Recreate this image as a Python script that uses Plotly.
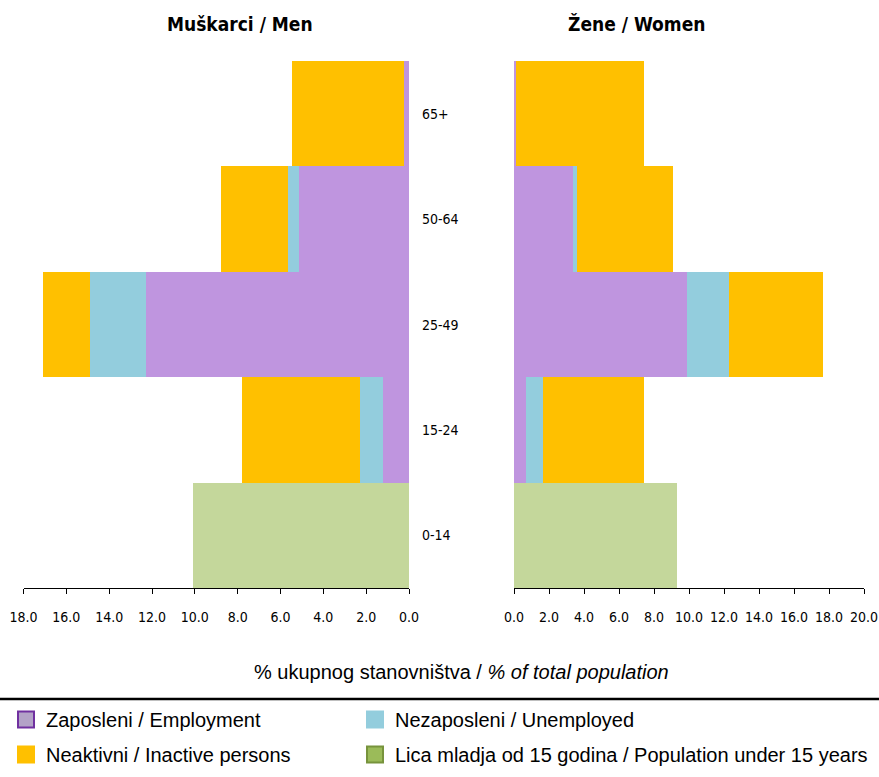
import plotly.graph_objects as go

W, H = 879, 777

age_groups = ["0-14", "15-24", "25-49", "50-64", "65+"]
tick_vals = [0, 2, 4, 6, 8, 10, 12, 14, 16, 18, 20]

# Men (% of total population)
men_employed = [0.0, 1.23, 12.32, 5.14, 0.26]
men_unemployed = [0.0, 1.07, 2.60, 0.54, 0.0]
men_inactive = [0.0, 5.50, 2.20, 3.14, 5.24]
men_under15 = [10.13, 0.0, 0.0, 0.0, 0.0]

# Women (% of total population)
women_employed = [0.0, 0.67, 9.90, 3.36, 0.10]
women_unemployed = [0.0, 0.97, 2.38, 0.23, 0.0]
women_inactive = [0.0, 5.77, 5.39, 5.50, 7.31]
women_under15 = [9.34, 0.0, 0.0, 0.0, 0.0]

C_EMP = "#BF95DF"
C_UNE = "#93CDDD"
C_INA = "#FFC000"
C_U15 = "#C4D79B"

fig = go.Figure()

def add_bars(xaxis, yaxis, vals_list):
    for vals, col in vals_list:
        fig.add_trace(go.Bar(
            y=age_groups, x=vals, orientation="h",
            marker=dict(color=col, line=dict(width=0)),
            xaxis=xaxis, yaxis=yaxis, showlegend=False,
            hoverinfo="x+y",
        ))

add_bars("x", "y", [(men_employed, C_EMP), (men_unemployed, C_UNE),
                    (men_inactive, C_INA), (men_under15, C_U15)])
add_bars("x2", "y2", [(women_employed, C_EMP), (women_unemployed, C_UNE),
                      (women_inactive, C_INA), (women_under15, C_U15)])

def px(x):
    return x / W

def py(y):
    return 1 - y / H

# legend entries: (name, fill, border, legend id, left px, top px)
legend_items = [
    ("Zaposleni / Employment", "#B3A2C7", "#7030A0", "legend", 6, 700),
    ("Nezaposleni / Unemployed", C_UNE, C_UNE, "legend2", 355, 700),
    ("Neaktivni / Inactive persons", C_INA, C_INA, "legend3", 6, 735),
    ("Lica mladja od 15 godina / Population under 15 years", "#9BBB59", "#77933C", "legend4", 355, 735),
]
legend_font = dict(size=20, family="Liberation Sans, Arial, sans-serif", color="#000")
legend_layout = {}
for name, fill, border, lg, lx, ly in legend_items:
    fig.add_trace(go.Scatter(
        x=[None], y=[None], mode="markers", name=name,
        marker=dict(symbol="square", size=17, color=fill,
                    line=dict(color=border, width=2)),
        xaxis="x", yaxis="y", legend=lg, showlegend=True,
    ))
    legend_layout[lg] = dict(orientation="h", x=px(lx), y=py(ly), yanchor="top",
                             xanchor="left", xref="container", yref="container",
                             font=legend_font, itemwidth=30,
                             bgcolor="rgba(0,0,0,0)")

y_dom = [py(588.3), py(61)]
narrow = "Liberation Sans Narrow, DejaVu Sans Condensed, Roboto Condensed, Arial Narrow, sans-serif"
tick_font = dict(family=narrow, size=14, color="#000")

fig.update_layout(
    width=W, height=H,
    margin=dict(l=0, r=0, t=0, b=0, autoexpand=False),
    paper_bgcolor="white", plot_bgcolor="white",
    barmode="stack", bargap=0,
    font=dict(family="Liberation Sans, Arial, sans-serif", color="#000"),
    xaxis=dict(domain=[px(23.5), px(409)], range=[18, 0], tickvals=tick_vals[:10],
               tickformat=".1f", showgrid=False, zeroline=False,
               showline=True, linecolor="#000", linewidth=1.2,
               ticks="outside", ticklen=5, tickcolor="#000", ticklabelstandoff=11,
               tickfont=tick_font, anchor="y", automargin=False),
    yaxis=dict(domain=y_dom, categoryorder="array", categoryarray=age_groups,
               side="right", showgrid=False, zeroline=False, showline=False,
               ticks="", ticklabelstandoff=12, tickfont=tick_font, anchor="x",
               automargin=False),
    xaxis2=dict(domain=[px(514), px(864)], range=[0, 20], tickvals=tick_vals,
                tickformat=".1f", showgrid=False, zeroline=False,
                showline=True, linecolor="#000", linewidth=1.2,
                ticks="outside", ticklen=5, tickcolor="#000", ticklabelstandoff=11,
                tickfont=tick_font, anchor="y2", automargin=False),
    yaxis2=dict(domain=y_dom, categoryorder="array", categoryarray=age_groups,
                showticklabels=False, showgrid=False, zeroline=False,
                showline=False, ticks="", anchor="x2", automargin=False),
    shapes=[dict(type="line", xref="paper", yref="paper", x0=0, x1=1,
                 y0=py(699), y1=py(699), line=dict(color="#000", width=2.5))],
    annotations=[
        dict(text="<b>Muškarci / Men</b>", x=px(240), y=py(24), xref="paper", yref="paper",
             showarrow=False, xanchor="center", yanchor="middle",
             font=dict(family=narrow, size=19)),
        dict(text="<b>Žene / Women</b>", x=px(636), y=py(24), xref="paper", yref="paper",
             showarrow=False, xanchor="center", yanchor="middle",
             font=dict(family=narrow, size=19)),
        dict(text="% ukupnog stanovništva / <i>% of total population</i>",
             x=px(461), y=py(672), xref="paper", yref="paper",
             showarrow=False, xanchor="center", yanchor="middle",
             font=dict(family="Liberation Sans, Arial, sans-serif", size=20)),
    ],
    **legend_layout,
)

fig.write_html("out.html", config={"displayModeBar": False},
               post_script="document.body.style.margin='0';document.body.style.overflow='hidden';")
